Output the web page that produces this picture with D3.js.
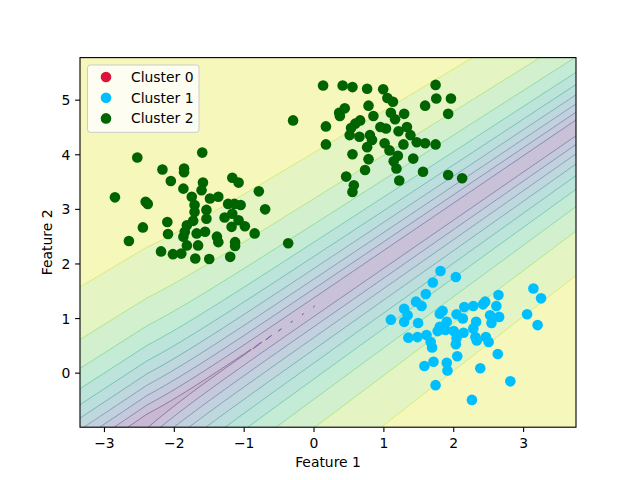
<!DOCTYPE html>
<html><head><meta charset="utf-8">
<script src="https://cdn.jsdelivr.net/npm/d3@7"></script>
<style>body{margin:0;background:#fff} text{font-family:"DejaVu Sans",sans-serif;fill:#000}</style>
</head><body><svg id="c" width="640" height="480"></svg>
<script>
// ---------- data ----------
const clusterNames = ["Cluster 0", "Cluster 1", "Cluster 2"];
const clusterColors = ["#dc143c", "#00bfff", "#006400"];
const cluster0 = [];
const cluster1 = [
 [1.81,1.87],[2.03,1.76],[1.70,1.66],[1.60,1.45],[1.46,1.31],[1.54,1.23],[1.29,1.18],[1.34,1.06],
 [1.10,0.98],[1.29,0.94],[1.49,0.92],[1.84,1.14],[1.80,1.09],[2.04,1.08],[2.13,1.00],[2.15,1.21],
 [2.28,1.23],[2.42,1.26],[2.45,1.31],[2.64,1.43],[2.61,1.23],[2.52,1.06],[2.65,1.03],[2.54,0.92],
 [3.14,1.55],[3.25,1.37],[3.05,1.08],[3.20,0.88],[1.90,0.94],[1.80,0.85],[1.77,0.77],[1.88,0.79],
 [2.00,0.77],[2.14,0.74],[2.32,0.94],[2.28,0.82],[2.31,0.66],[2.46,0.66],[2.50,0.57],[2.33,0.60],
 [2.04,0.64],[2.03,0.53],[1.67,0.57],[1.69,0.47],[1.61,0.70],[1.48,0.66],[1.35,0.65],[2.05,0.31],
 [1.90,0.19],[1.91,0.05],[1.71,0.21],[1.58,0.13],[2.63,0.35],[2.38,0.09],[2.81,-0.15],[1.74,-0.22],
 [2.26,-0.49]
];
const cluster2 = [
 [-2.53,3.95],[-1.60,4.04],[-2.17,3.73],[-1.86,3.75],[-1.86,3.68],[-2.05,3.52],[-1.59,3.49],[-1.17,3.58],
 [-1.08,3.49],[-1.61,3.35],[-1.87,3.38],[-0.79,3.33],[-2.85,3.22],[-2.41,3.14],[-2.38,3.10],[-1.75,3.23],
 [-1.49,3.20],[-1.37,3.23],[-1.71,3.08],[-1.23,3.10],[-1.14,3.10],[-1.05,3.08],[-0.70,3.00],[-1.71,2.95],
 [-1.54,2.99],[-1.28,2.85],[-1.17,2.92],[-2.10,2.77],[-1.54,2.83],[-1.08,2.80],[-0.99,2.69],[-2.45,2.67],
 [-1.82,2.71],[-1.73,2.79],[-1.18,2.68],[-2.09,2.55],[-1.85,2.59],[-1.68,2.56],[-1.56,2.59],[-0.85,2.56],
 [-2.65,2.42],[-1.87,2.50],[-1.39,2.50],[-0.37,2.38],[-1.13,2.40],[-2.19,2.23],[-2.02,2.18],[-1.90,2.19],
 [-1.82,2.34],[-1.66,2.34],[-1.37,2.40],[-1.13,2.33],[-1.70,2.10],[-1.50,2.09],[-1.20,2.13],
 [0.13,5.27],[-0.30,4.63],[0.17,4.52],[0.17,4.19],[0.41,5.27],[0.55,5.24],[0.76,5.21],[0.99,5.20],
 [1.74,5.28],[1.75,5.03],[1.96,5.03],[1.59,4.90],[1.92,4.75],[1.05,5.04],[1.13,4.97],[0.78,4.90],
 [0.44,4.85],[0.36,4.77],[0.37,4.71],[0.85,4.71],[1.10,4.77],[1.29,4.75],[1.16,4.65],[0.66,4.63],
 [0.59,4.57],[0.53,4.49],[0.95,4.51],[1.03,4.48],[1.33,4.51],[1.21,4.43],[1.38,4.36],[0.51,4.36],
 [0.65,4.33],[0.80,4.36],[0.83,4.27],[1.01,4.21],[1.28,4.19],[1.47,4.23],[1.59,4.21],[1.74,4.19],
 [0.55,4.01],[0.76,4.14],[0.78,3.92],[1.08,4.08],[1.14,3.88],[1.18,3.75],[1.42,3.93],[1.20,3.98],
 [0.73,3.72],[1.56,3.69],[0.46,3.60],[0.57,3.44],[0.55,3.32],[1.22,3.53],[1.92,3.63],[2.12,3.57]
];
const clusters = [cluster0, cluster1, cluster2];
const contourLevels = [0.45,0.50,0.55,0.60,0.65,0.70,0.75,0.80,0.85,0.90,0.95,1.00];
const xTicks = [-3,-2,-1,0,1,2,3];
const yTicks = [0,1,2,3,4,5];

// ---------- layout ----------
const L = 80, R = 576, T = 57.6, B = 427.2;
const svg = d3.select("#c");
const all = clusters.flat();
const xDom = [d3.min(all, d => d[0]) - 0.5, d3.max(all, d => d[0]) + 0.5];
const yDom = [d3.min(all, d => d[1]) - 0.5, d3.max(all, d => d[1]) + 0.5];
const xS = d3.scaleLinear().domain(xDom).range([L, R]);
const yS = d3.scaleLinear().domain(yDom).range([B, T]);

// model surface (max class probability)
function zval(x, y) {
  let f = (y - 0.875 * x - 1.22) / (1 - x / 26);
  f = f > 0 ? f : -0.89 * f;
  const g = 1.27 * f - 0.08 * f * f;
  const s = 1 / (1 + Math.exp(-g));
  const d = Math.min(0.038, 0.0033 * Math.exp(-1.8 * (x + 1.03)));
  return s - d * 2 * (1 - s);
}
const h = 0.02;
const gx0 = xDom[0] - 2 * h, gy0 = yDom[0] - 2 * h;
const n = Math.ceil((xDom[1] - gx0) / h) + 3, m = Math.ceil((yDom[1] - gy0) / h) + 3;
const vals = new Float64Array(n * m);
for (let j = 0; j < m; j++) for (let i = 0; i < n; i++) vals[j * n + i] = zval(gx0 + i * h, gy0 + j * h);
const gen = d3.contours().size([n, m]);
function toPath(geom) {
  let s = "";
  for (const poly of geom.coordinates) for (const ring of poly) {
    s += "M" + ring.map(p => xS(gx0 + (p[0] - 0.5) * h).toFixed(2) + "," + yS(gy0 + (p[1] - 0.5) * h).toFixed(2)).join("L") + "Z";
  }
  return s;
}
const vmin = contourLevels[0], vmax = contourLevels[contourLevels.length - 1];
const alpha = 0.3;
function blend(t) {
  const c = d3.rgb(d3.interpolateViridis(t));
  return d3.rgb(255 - alpha * (255 - c.r), 255 - alpha * (255 - c.g), 255 - alpha * (255 - c.b)).toString();
}
svg.append("defs").append("clipPath").attr("id", "clip").append("rect")
  .attr("x", L).attr("y", T).attr("width", R - L).attr("height", B - T);
const gC = svg.append("g").attr("clip-path", "url(#clip)");
gC.append("rect").attr("x", L).attr("y", T).attr("width", R - L).attr("height", B - T)
  .attr("fill", blend(((contourLevels[0] + contourLevels[1]) / 2 - vmin) / (vmax - vmin)));
const geoms = [];
for (let i = 1; i < contourLevels.length - 1; i++) {
  const g = gen.contour(vals, contourLevels[i]);
  geoms.push([i, g]);
  const mid = (contourLevels[i] + contourLevels[i + 1]) / 2;
  gC.append("path").attr("d", toPath(g)).attr("fill", blend((mid - vmin) / (vmax - vmin))).attr("fill-rule", "evenodd");
}
for (const [i, g] of geoms) {
  gC.append("path").attr("d", toPath(g)).attr("fill", "none")
    .attr("stroke", d3.interpolateViridis((contourLevels[i] - vmin) / (vmax - vmin)))
    .attr("stroke-opacity", 0.45).attr("stroke-width", 1);
}

// scatter
clusters.forEach((pts, ci) => {
  svg.append("g").selectAll("circle").data(pts).join("circle")
    .attr("cx", d => xS(d[0])).attr("cy", d => yS(d[1])).attr("r", 5.3)
    .attr("fill", clusterColors[ci]);
});

// axes frame
svg.append("rect").attr("x", L).attr("y", T).attr("width", R - L).attr("height", B - T)
  .attr("fill", "none").attr("stroke", "#000").attr("stroke-width", 1.1);
const fmt = v => (v < 0 ? "\u2212" + Math.abs(v) : String(v));
const gx = svg.append("g");
xTicks.forEach(v => {
  const x = xS(v);
  gx.append("line").attr("x1", x).attr("x2", x).attr("y1", B).attr("y2", B + 4.9).attr("stroke", "#000").attr("stroke-width", 1.1);
  gx.append("text").attr("x", x).attr("y", B + 20.5).attr("text-anchor", "middle").attr("font-size", "13.9px").text(fmt(v));
});
const gy = svg.append("g");
yTicks.forEach(v => {
  const y = yS(v);
  gy.append("line").attr("x1", L - 4.9).attr("x2", L).attr("y1", y).attr("y2", y).attr("stroke", "#000").attr("stroke-width", 1.1);
  gy.append("text").attr("x", L - 9.7).attr("y", y).attr("dy", "0.36em").attr("text-anchor", "end").attr("font-size", "13.9px").text(fmt(v));
});
svg.append("text").attr("x", (L + R) / 2).attr("y", 467).attr("text-anchor", "middle").attr("font-size", "13.9px").text("Feature 1");
svg.append("text").attr("transform", `translate(52,${(T + B) / 2}) rotate(-90)`).attr("text-anchor", "middle").attr("font-size", "13.9px").text("Feature 2");

// legend
const lg = svg.append("g");
lg.append("rect").attr("x", 87.5).attr("y", 65).attr("width", 111.5).attr("height", 67.3).attr("rx", 2.8)
  .attr("fill", "#fff").attr("fill-opacity", 0.8).attr("stroke", "#cccccc").attr("stroke-width", 1);
clusterNames.forEach((name, i) => {
  const y = 77 + i * 20.7;
  lg.append("circle").attr("cx", 106).attr("cy", y).attr("r", 5.3).attr("fill", clusterColors[i]);
  lg.append("text").attr("x", 131).attr("y", y).attr("dy", "0.36em").attr("font-size", "13.9px").text(name);
});
</script></body></html>
